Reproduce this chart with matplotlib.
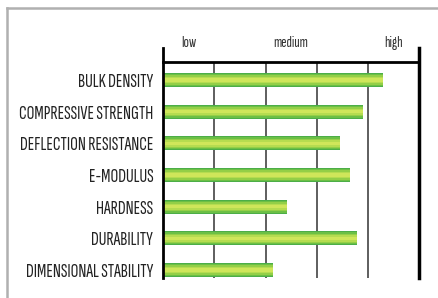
import matplotlib.pyplot as plt
from matplotlib.lines import Line2D
import numpy as np

properties = ['BULK DENSITY', 'COMPRESSIVE STRENGTH', 'DEFLECTION RESISTANCE',
              'E-MODULUS', 'HARDNESS', 'DURABILITY', 'DIMENSIONAL STABILITY']
scores = [4.29, 3.91, 3.46, 3.64, 2.42, 3.78, 2.14]
level_labels = ['low', 'medium', 'high']
level_pos = [0.5, 2.5, 4.5]

plt.rcParams['font.family'] = ['Sofia Sans Extra Condensed', 'Sofia Sans Condensed', 'DejaVu Sans']

fig = plt.figure(figsize=(4.38, 2.98), dpi=100)
ax = fig.add_axes([163/438, 1-278/298, 256.3/438, 216/298])

y = np.arange(len(properties))
# fake gradient: stacked bars from dark green edge to light yellow-green middle
layers = [(0.44, '#4cae48'), (0.38, '#6cbf45'), (0.30, '#93cf47'),
          (0.20, '#b5dc50'), (0.10, '#cfe65a')]
for h, c in layers:
    ax.barh(y, scores, height=h, color=c, edgecolor='none', zorder=3)

ax.set_xlim(0, 5)
ax.set_ylim(6.25, -0.57)
ax.set_yticks(y)
ax.set_yticklabels(properties, fontsize=12, color='#222222')
ax.tick_params(axis='y', length=0, pad=7)
ax.set_xticks([])

# fit label size so the longest one is about as wide as in the original
fig.canvas.draw()
r = fig.canvas.get_renderer()
w = max(t.get_window_extent(r).width for t in ax.get_yticklabels())
for t in ax.get_yticklabels():
    t.set_fontsize(12 * 134 / w)

for x in [1, 2, 3, 4]:
    ax.axvline(x, color='#333333', lw=1.1, zorder=1)
ax.axvline(0, ymin=0, ymax=1.067, color='black', lw=2, clip_on=False, zorder=5)
ax.axvline(5, ymin=0, ymax=1.067, color='black', lw=2.5, clip_on=False, zorder=5)

for s in ['left', 'right', 'bottom']:
    ax.spines[s].set_visible(False)
ax.spines['top'].set_linewidth(2)

for lab, p in zip(level_labels, level_pos):
    ax.text(p, 1.09, lab, transform=ax.get_xaxis_transform(), ha='center',
            va='center', fontsize=11.5, color='#333333')

# grey frame around the chart
fig.add_artist(Line2D([7/438, 7/438], [0, 1-8/298], color='#b0b0b0', lw=1.8))
fig.add_artist(Line2D([7/438, 1], [1-8/298, 1-8/298], color='#b0b0b0', lw=1.8))

fig.savefig('out.png', dpi=100)
